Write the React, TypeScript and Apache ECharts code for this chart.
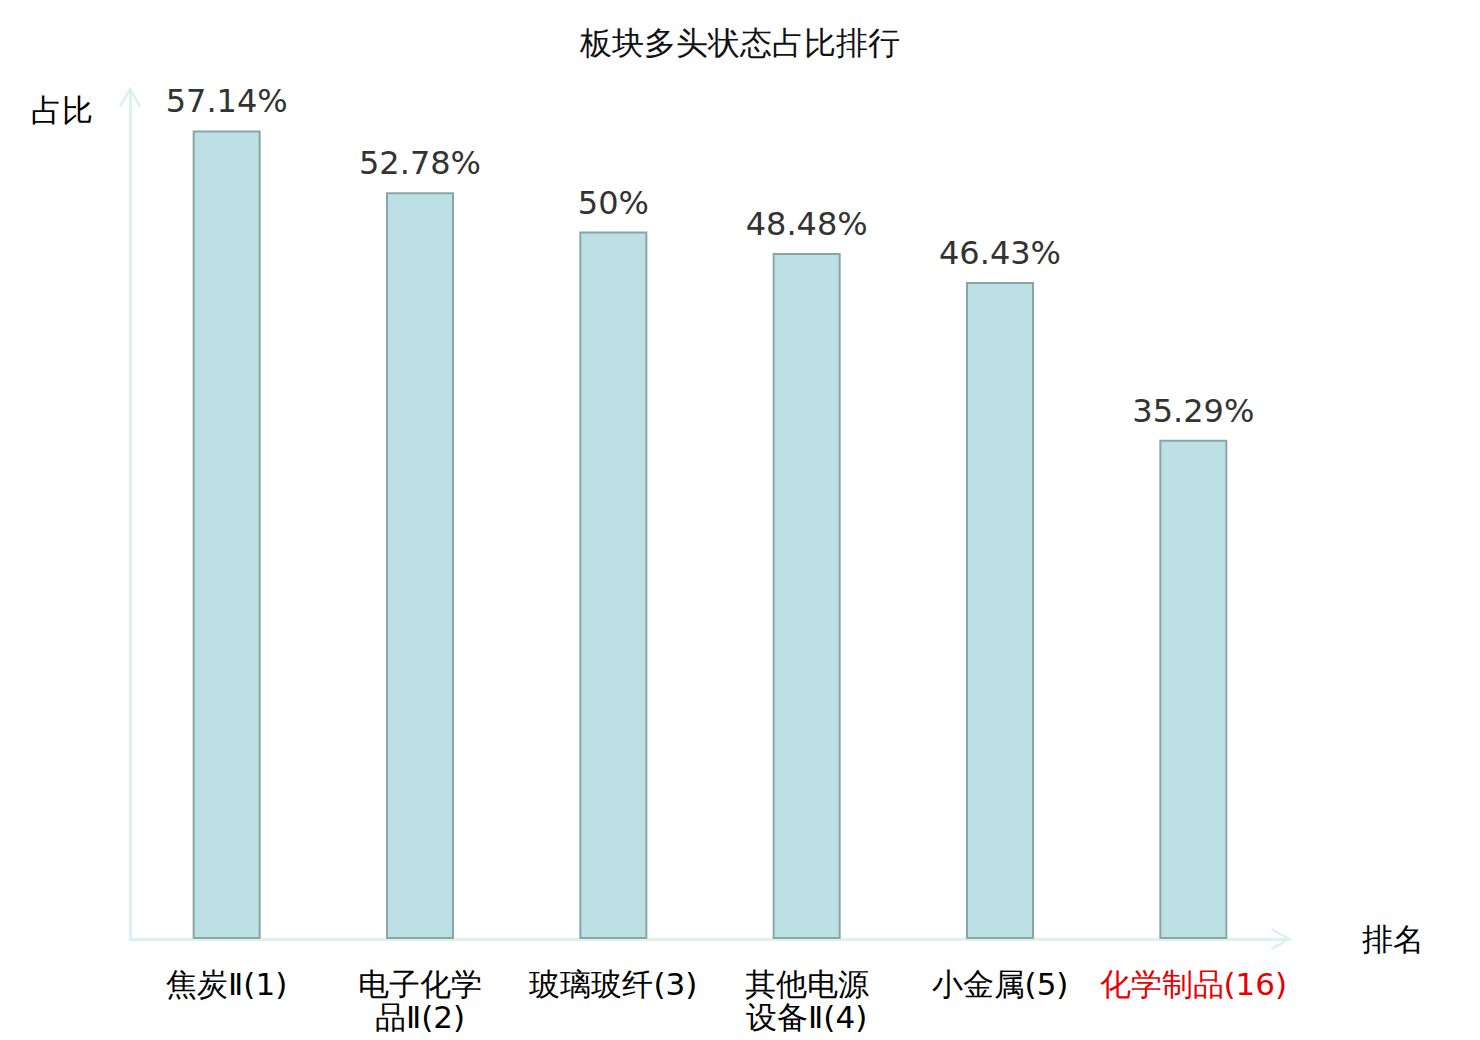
import React, { useEffect, useRef } from "react";
import * as echarts from "echarts";

const titleText = "板块多头状态占比排行";
const categories = [
  "焦炭Ⅱ(1)",
  "电子化学\n品Ⅱ(2)",
  "玻璃玻纤(3)",
  "其他电源\n设备Ⅱ(4)",
  "小金属(5)",
  "化学制品(16)",
];
const values = [57.14, 52.78, 50, 48.48, 46.43, 35.29];
const highlightIndex = 5;
const yAxisName = "占比";
const xAxisName = "排名";

const chevron = "path://M11,0 L22,19 L20,21 L11,5 L2,21 L0,19 Z";

export default function App() {
  const ref = useRef<HTMLDivElement>(null);
  useEffect(() => {
    document.body.style.margin = "0";
    const chart = echarts.init(ref.current!, null, { renderer: "svg" });
    const axisColor = "#ddf1ef";
    chart.setOption({
      animation: false,
      backgroundColor: "#ffffff",
      title: {
        text: titleText,
        left: "center",
        top: 22,
        textStyle: { fontSize: 32, fontWeight: "normal", color: "#111", fontFamily: "sans-serif" },
      },
      grid: { left: 130, right: 190, top: 90, bottom: 101, containLabel: false },
      xAxis: {
        type: "category",
        data: categories,
        name: xAxisName,
        nameLocation: "end",
        nameGap: 72,
        nameTextStyle: { fontSize: 31, color: "#000", padding: [10, 0, 0, 0] },
        axisLine: {
          show: true,
          symbol: ["none", chevron],
          symbolSize: [22, 21],
          symbolOffset: [0, -9],
          lineStyle: { color: axisColor, width: 3 },
        },
        axisTick: { show: false },
        axisLabel: {
          interval: 0,
          margin: 28,
          fontSize: 31,
          lineHeight: 33,
          fontFamily: "'DejaVu Sans ExtraLight', 'DejaVu Sans', sans-serif",
          color: (_v: string, i: number) => (i === highlightIndex ? "#e60000" : "#000"),
        },
      },
      yAxis: {
        type: "value",
        min: 0,
        max: 60,
        name: yAxisName,
        nameLocation: "end",
        nameGap: -5,
        nameTextStyle: {
          fontSize: 31,
          color: "#000",
          align: "right",
          verticalAlign: "top",
          padding: [0, 37, 0, 0],
        },
        axisLine: {
          show: true,
          symbol: ["none", chevron],
          symbolSize: [22, 21],
          symbolOffset: [0, -7],
          lineStyle: { color: axisColor, width: 3 },
        },
        axisTick: { show: false },
        axisLabel: { show: false },
        splitLine: { show: false },
      },
      series: [
        {
          type: "bar",
          data: values,
          barWidth: 68,
          itemStyle: { color: "#bce0e3", borderColor: "#88a6a8", borderWidth: 2 },
          label: {
            show: true,
            position: "top",
            distance: 13,
            fontSize: 32,
            color: "#333",
            fontFamily: "DejaVu Sans",
            formatter: (p: any) => `${p.value}%`,
          },
        },
      ],
    });
    return () => chart.dispose();
  }, []);
  return <div ref={ref} style={{ width: 1480, height: 1040 }} />;
}
